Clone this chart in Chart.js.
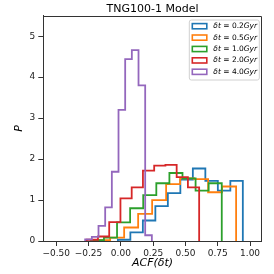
<!DOCTYPE html>
<html><head><meta charset="utf-8">
<script src="https://cdn.jsdelivr.net/npm/chart.js@4.4.0/dist/chart.umd.min.js"></script>
<style>html,body{margin:0;padding:0;background:#fff;}#wrap{width:274px;height:274px;}</style>
</head><body><div id="wrap"><canvas id="c" width="274" height="274"></canvas></div>
<script>
// ---- data ----
const seriesLabels = ['0.2', '0.5', '1.0', '2.0', '4.0'];
const seriesColors = ['#1f77b4', '#ff7f0e', '#2ca02c', '#d62728', '#9467bd'];
// histogram range [first edge, last edge] for each series (10 equal bins each)
const range02 = [-0.023, 0.944];
const range05 = [-0.191, 0.892];
const range10 = [-0.232, 0.781];
const range20 = [-0.264, 0.606];
const range40 = [-0.276, 0.240];
// bin densities
const density02 = [0.03, 0.21, 0.50, 0.85, 1.17, 1.50, 1.77, 1.47, 1.23, 1.47];
const density05 = [0.02, 0.08, 0.33, 0.66, 1.00, 1.39, 1.53, 1.51, 1.19, 1.33];
const density10 = [0.02, 0.08, 0.455, 0.80, 1.12, 1.41, 1.66, 1.53, 1.23, 1.41];
const density20 = [0.03, 0.11, 0.46, 1.04, 1.31, 1.72, 1.84, 1.86, 1.56, 1.31];
const density40 = [0.04, 0.10, 0.37, 0.82, 1.69, 3.20, 4.44, 4.66, 3.80, 0.14];
const xTicks = [-0.5, -0.25, 0.0, 0.25, 0.5, 0.75, 1.0];
const yTicks = [0, 1, 2, 3, 4, 5];
const titleText = 'TNG100-1 Model';
const xTitle = 'ACF(\u03b4t)';
const yTitle = 'P';

const ranges = [range02, range05, range10, range20, range40];
const densities = [density02, density05, density10, density20, density40];

function stepPoints(range, dens) {
  const n = dens.length, w = (range[1] - range[0]) / n;
  const pts = [{x: range[0], y: 0}];
  for (let i = 0; i < n; i++) pts.push({x: range[0] + i * w, y: dens[i]});
  pts.push({x: range[1], y: 0});
  return pts;
}

const datasets = densities.map((d, i) => ({
  label: '\u03b4t = ' + seriesLabels[i] + 'Gyr',
  data: stepPoints(ranges[i], d),
  borderColor: seriesColors[i],
  backgroundColor: seriesColors[i],
  borderWidth: 1.8,
  stepped: 'before',
  pointRadius: 0,
  fill: false,
  tension: 0,
  borderJoinStyle: 'miter',
  borderCapStyle: 'butt',
  order: densities.length - i
}));

const FONT = 'DejaVu Sans';
const AXC = '#333';

const framePlugin = {
  id: 'frame',
  afterDatasetsDraw(chart) {
    const {ctx, chartArea: a} = chart;
    ctx.save();
    ctx.strokeStyle = AXC; ctx.lineWidth = 1;
    ctx.beginPath();
    const t = Math.round(a.top) + 0.5, r = Math.round(a.right) - 0.5;
    ctx.moveTo(a.left, t); ctx.lineTo(r, t); ctx.lineTo(r, a.bottom);
    ctx.stroke();
    ctx.restore();
  }
};

const legendPlugin = {
  id: 'stepLegend',
  afterDraw(chart) {
    const {ctx, chartArea: a} = chart;
    const w = 70, h = 60;
    const x0 = a.right - 2.4 - w, y0 = a.top + 4.3;
    ctx.save();
    const rr = 2;
    ctx.beginPath();
    ctx.moveTo(x0 + rr, y0); ctx.lineTo(x0 + w - rr, y0); ctx.quadraticCurveTo(x0 + w, y0, x0 + w, y0 + rr);
    ctx.lineTo(x0 + w, y0 + h - rr); ctx.quadraticCurveTo(x0 + w, y0 + h, x0 + w - rr, y0 + h);
    ctx.lineTo(x0 + rr, y0 + h); ctx.quadraticCurveTo(x0, y0 + h, x0, y0 + h - rr);
    ctx.lineTo(x0, y0 + rr); ctx.quadraticCurveTo(x0, y0, x0 + rr, y0);
    ctx.closePath();
    ctx.fillStyle = 'rgba(255,255,255,0.8)'; ctx.fill();
    ctx.strokeStyle = '#d0d0d0'; ctx.lineWidth = 1; ctx.stroke();
    ctx.textBaseline = 'middle';
    const fs = 7.5;
    chart.data.datasets.forEach((ds, i) => {
      const y = y0 + 6.2 + 11.4 * i;
      ctx.strokeStyle = ds.borderColor; ctx.lineWidth = 1.6;
      ctx.strokeRect(x0 + 3, y - 2.6, 14.5, 5.2);
      let tx = x0 + 24;
      ctx.fillStyle = '#000';
      ctx.font = 'italic ' + fs + 'px "' + FONT + '"';
      ctx.fillText('\u03b4t', tx, y); tx += ctx.measureText('\u03b4t').width;
      ctx.font = fs + 'px "' + FONT + '"';
      const mid = ' = ' + seriesLabels[i];
      ctx.fillText(mid, tx, y); tx += ctx.measureText(mid).width;
      ctx.font = 'italic ' + fs + 'px "' + FONT + '"';
      ctx.fillText('Gyr', tx, y);
    });
    ctx.restore();
  }
};

const fmtX = v => (v < 0 ? '\u2212' : '') + Math.abs(v).toFixed(2);

new Chart(document.getElementById('c'), {
  type: 'line',
  data: {datasets},
  plugins: [framePlugin, legendPlugin],
  options: {
    responsive: false, animation: false, devicePixelRatio: 1,
    layout: {padding: {left: 0, right: 12.3, top: 0, bottom: 0}},
    plugins: {
      legend: {display: false}, tooltip: {enabled: false},
      title: {display: true, text: titleText, fullSize: false, color: '#000',
        font: {family: FONT, size: 11, weight: 'normal'}, padding: {top: 2.5, bottom: 0}}
    },
    scales: {
      x: {
        type: 'linear', min: -0.6, max: 1.09,
        afterFit: s => { s.height = 33; },
        afterBuildTicks: s => { s.ticks = xTicks.map(v => ({value: v})); },
        grid: {drawOnChartArea: false, drawTicks: true, tickLength: 5, tickColor: AXC, color: AXC},
        border: {display: true, color: AXC, width: 1},
        ticks: {font: {family: FONT, size: 9}, color: '#222', padding: 2, maxRotation: 0, autoSkip: false,
          callback: v => fmtX(v)},
        title: {display: true, text: xTitle, color: '#000', font: {family: FONT, size: 11, style: 'italic'},
          padding: {top: 0, bottom: 4}}
      },
      y: {
        type: 'linear', min: 0, max: 5.5,
        afterFit: s => { s.width = 43.3; },
        afterBuildTicks: s => { s.ticks = yTicks.map(v => ({value: v})); },
        grid: {drawOnChartArea: false, drawTicks: true, tickLength: 5, tickColor: AXC, color: AXC},
        border: {display: true, color: AXC, width: 1},
        ticks: {font: {family: FONT, size: 9}, color: '#222', padding: 3, autoSkip: false,
          callback: v => String(v)},
        title: {display: true, text: yTitle, color: '#000', font: {family: FONT, size: 11, style: 'italic'},
          padding: {top: 12.7, bottom: 0}}
      }
    }
  }
});
</script>
</body></html>
